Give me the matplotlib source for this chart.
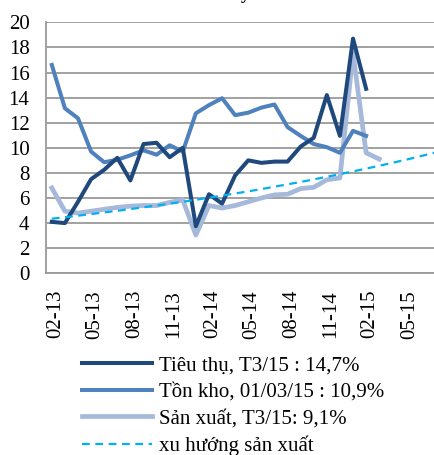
import numpy as np
import matplotlib
matplotlib.use('Agg')
import matplotlib.pyplot as plt
import matplotlib.transforms as mtransforms

plt.rcParams['font.family'] = ['Liberation Serif', 'DejaVu Serif']

# month labels (every month, from 02-13)
months = ['02-13', '03-13', '04-13', '05-13', '06-13', '07-13', '08-13', '09-13', '10-13', '11-13',
          '12-13', '01-14', '02-14', '03-14', '04-14', '05-14', '06-14', '07-14', '08-14', '09-14',
          '10-14', '11-14', '12-14', '01-15', '02-15', '03-15', '04-15', '05-15', '06-15', '07-15',
          '08-15']

tieu_thu = [4.1, 4.0, 5.7, 7.5, 8.25, 9.2, 7.4, 10.3, 10.4, 9.25, 10.0, 3.75, 6.3, 5.55,
            7.8, 9.0, 8.8, 8.9, 8.9, 10.1, 10.8, 14.2, 10.95, 18.7, 14.7]
ton_kho = [16.6, 13.15, 12.35, 9.7, 8.85, 9.05, 9.4, 9.8, 9.45, 10.2, 9.7, 12.75, 13.4, 13.95,
           12.6, 12.8, 13.2, 13.45, 11.65, 10.95, 10.3, 10.05, 9.6, 11.35, 10.95]
san_xuat = [6.8, 4.95, 4.8, 4.95, 5.1, 5.25, 5.35, 5.4, 5.4, 5.65, 5.85, 3.05, 5.4, 5.2,
            5.4, 5.7, 6.0, 6.25, 6.3, 6.75, 6.85, 7.45, 7.6, 17.55, 9.6, 9.1]
xu_huong = [4.35, 4.47, 4.59, 4.72, 4.85, 4.98, 5.12, 5.26, 5.40, 5.55, 5.70, 5.86, 6.02, 6.19,
            6.36, 6.53, 6.71, 6.90, 7.09, 7.28, 7.48, 7.69, 7.90, 8.12, 8.34, 8.57, 8.80, 9.04,
            9.29, 9.55, 9.8]

labels = ['Tiêu thụ, T3/15 : 14,7%', 'Tồn kho, 01/03/15 : 10,9%',
          'Sản xuất, T3/15: 9,1%', 'xu hướng sản xuất']

fig = plt.figure(figsize=(4.35, 4.55), dpi=100)
ax = fig.add_axes([0.106, 1 - 273.3 / 455, 0.894, 251 / 455])

ax.plot(range(len(tieu_thu)), tieu_thu, color='#1f497d', lw=2.9, label=labels[0], zorder=4)
ax.plot(range(len(ton_kho)), ton_kho, color='#4f81bd', lw=2.9, label=labels[1], zorder=3)
ax.plot(range(len(san_xuat)), san_xuat, color='#a6b9da', lw=3.4, label=labels[2], zorder=2)
ax.plot(range(len(xu_huong)), xu_huong, color='#00b0f0', lw=1.6, ls=(0, (3.5, 2.5)),
        label=labels[3], zorder=5)

ax.set_ylim(0, 20)
ax.set_yticks(range(0, 21, 2))
ax.set_xlim(-0.435, 29.26)
tick_idx = list(range(0, 30, 3))
ax.set_xticks(tick_idx)
ax.set_xticklabels([months[i] for i in tick_idx], rotation=90)
ax.tick_params(axis='both', length=0, labelsize=15)
ax.tick_params(axis='y', pad=12)
ax.tick_params(axis='x', pad=12)
shift = mtransforms.ScaledTranslation(4 / 100, 0, fig.dpi_scale_trans)
for lb in ax.get_xticklabels():
    lb.set_transform(lb.get_transform() + shift)

ax.grid(axis='y', color='#9a9a9a', lw=1.3)
ax.set_axisbelow(True)
for s in ['top', 'right']:
    ax.spines[s].set_visible(False)
for s in ['left', 'bottom']:
    ax.spines[s].set_color('#9a9a9a')
    ax.spines[s].set_linewidth(1.3)

# title, mostly cut off at the top of the image
fig.text(0.563, 1 + 1 / 455, 'y', ha='center', va='baseline', fontsize=13, fontweight='bold')

fig.legend(loc='upper left', bbox_to_anchor=(0.188, 1 - 356 / 455), frameon=False,
           fontsize=15, handlelength=3.37, handletextpad=0.32, labelspacing=0.33,
           borderaxespad=0, borderpad=0)

fig.savefig('out.png', dpi=100)
